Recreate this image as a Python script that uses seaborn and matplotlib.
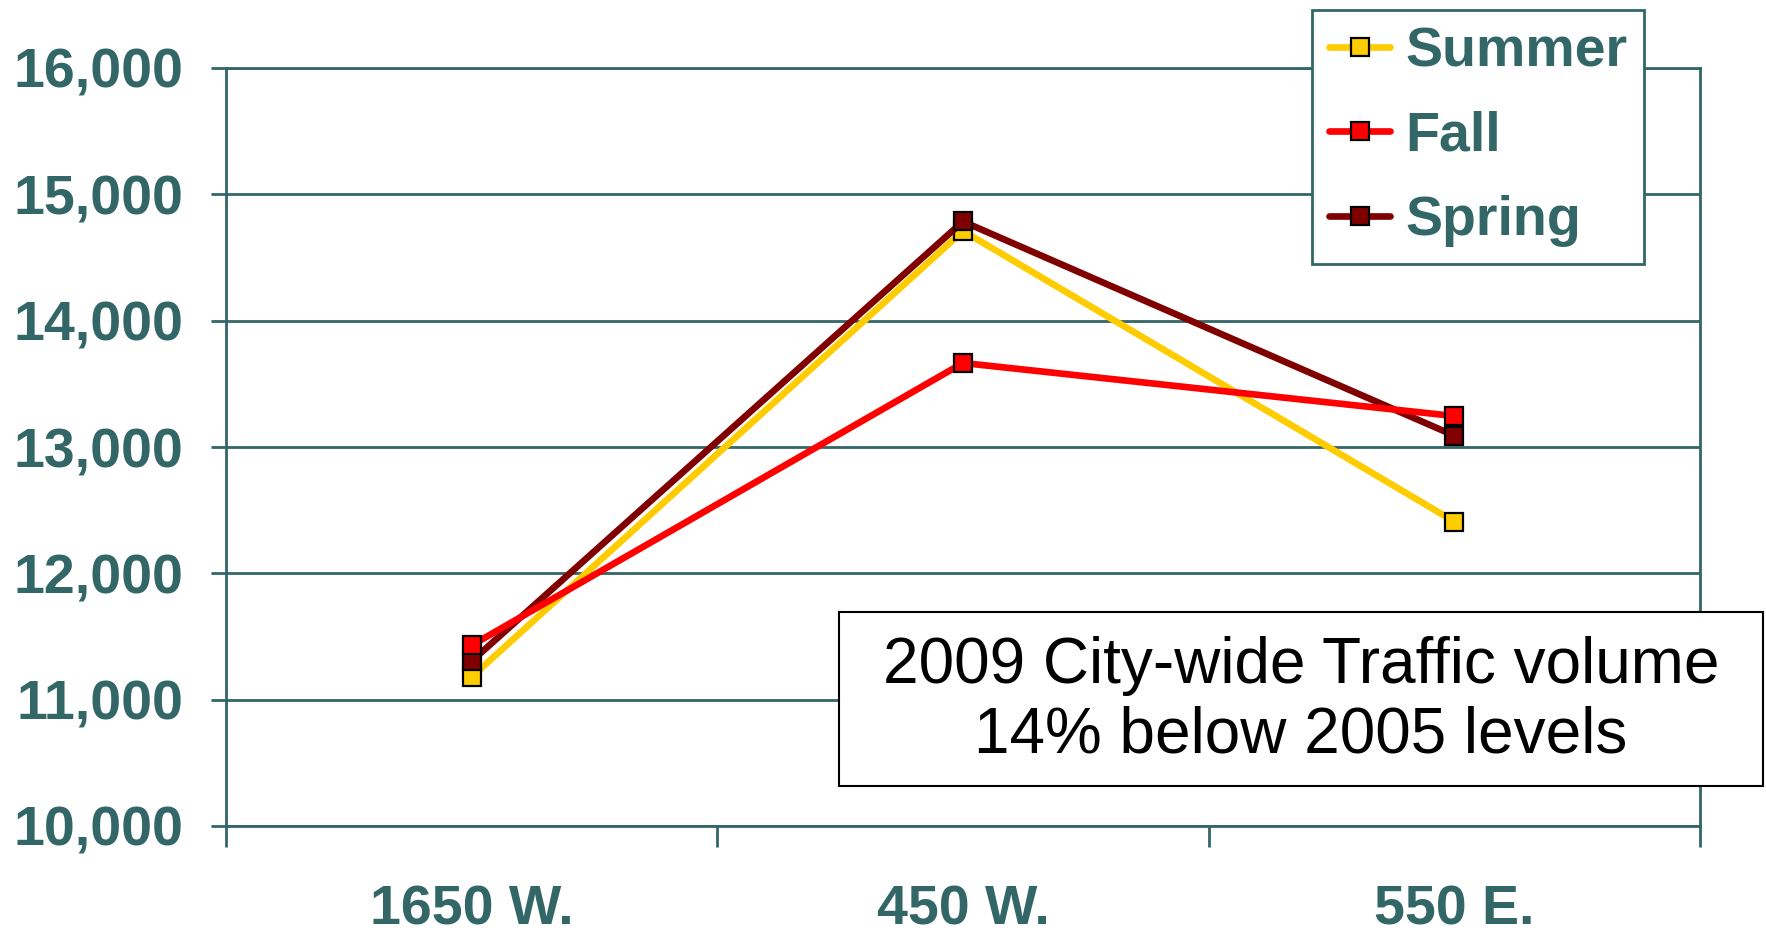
import seaborn as sns
import matplotlib.pyplot as plt
import matplotlib.patches as mpatches
import pandas as pd

sns.set_style("white")
plt.rcParams["font.family"] = ["Liberation Sans", "DejaVu Sans"]

# Traffic counts
locations = ["1650 W.", "450 W.", "550 E."]
summer = [11180, 14710, 12410]
fall = [11430, 13665, 13245]
spring = [11305, 14785, 13090]

seasons = ["Summer", "Fall", "Spring"]
colors = {"Summer": "#FFCC00", "Fall": "#FF0000", "Spring": "#800000"}
teal = "#336666"

df = pd.DataFrame({
    "location": locations * 3,
    "season": ["Summer"] * 3 + ["Fall"] * 3 + ["Spring"] * 3,
    "volume": summer + fall + spring,
})

fig = plt.figure(figsize=(17.66, 9.39), dpi=100)
ax = fig.add_axes([226 / 1766, 1 - 826 / 939, (1700 - 226) / 1766, (826 - 68) / 939])

sns.lineplot(data=df, x="location", y="volume", hue="season", hue_order=seasons,
             palette=colors, marker="s", markersize=13, markeredgecolor="black",
             markeredgewidth=1.6, linewidth=4.8, sort=False, ax=ax)

# stacking like the original: yellow at back, red in front
for line, z in zip(ax.lines[:3], [3, 5, 4]):
    line.set_zorder(z)

ax.set_xlim(-0.5, 2.5)
ax.set_ylim(10000, 16000)
ax.set_yticks(range(10000, 16001, 1000))
ax.set_yticklabels([f"{v:,}" for v in range(10000, 16001, 1000)])
ax.set_xticks(range(3))
ax.set_xticks([-0.5, 0.5, 1.5, 2.5], minor=True)
ax.set_xlabel("")
ax.set_ylabel("")

ax.yaxis.grid(True, color=teal, linewidth=2)
ax.set_axisbelow(True)
for s in ax.spines.values():
    s.set_color(teal)
    s.set_linewidth(2)

ax.tick_params(axis="y", direction="out", length=11, width=2, color=teal,
               labelsize=40, labelcolor=teal, pad=20, left=True)
ax.tick_params(axis="x", which="major", length=0, labelsize=40,
               labelcolor=teal, pad=42)
ax.tick_params(axis="x", which="minor", direction="out", length=15, width=2,
               color=teal, bottom=True)
for lab in ax.get_xticklabels() + ax.get_yticklabels():
    lab.set_fontweight("bold")

# legend in the upper right corner of the figure
handles, labels = ax.get_legend_handles_labels()
ax.legend_.remove()
leg = fig.legend(handles, labels, loc="upper right",
                 bbox_to_anchor=(1644 / 1766, 1 - 10 / 939),
                 bbox_transform=fig.transFigure, borderaxespad=0,
                 frameon=True, fancybox=False, framealpha=1,
                 prop={"size": 40, "weight": "bold"}, handlelength=1.1,
                 handletextpad=0.27, labelspacing=0.58, borderpad=0.3)
leg.get_frame().set_edgecolor(teal)
leg.get_frame().set_linewidth(2)
for t in leg.get_texts():
    t.set_color(teal)

# annotation box
rect = mpatches.Rectangle((839 / 1766, 1 - 786 / 939), 924 / 1766, 174 / 939,
                          transform=fig.transFigure, facecolor="white",
                          edgecolor="black", linewidth=1.5, zorder=10)
fig.patches.append(rect)
fig.text(1301 / 1766, 1 - 701 / 939,
         "2009 City-wide Traffic volume\n14% below 2005 levels",
         ha="center", va="center", fontsize=46, color="black",
         linespacing=1.2, zorder=11)

fig.savefig("out.png", dpi=100)
plt.close(fig)
